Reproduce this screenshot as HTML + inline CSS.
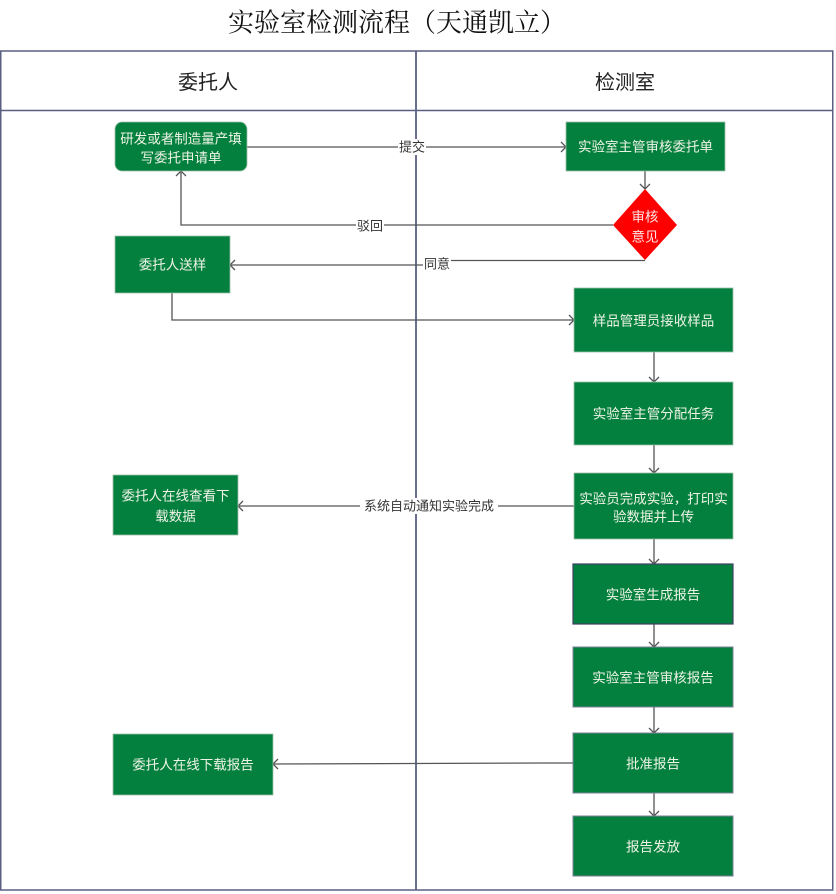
<!DOCTYPE html>
<html>
<head>
<meta charset="utf-8">
<style>
  html,body{margin:0;padding:0;background:#fff;}
  svg{display:block;}
  .t{font-family:"Liberation Sans","Noto Sans CJK SC",sans-serif;}
  .bx{fill:#04803e;}
  .bt{fill:#eef3e6;font-size:13.5px;font-family:"Liberation Sans","Noto Sans CJK SC",sans-serif;}
  .ln{fill:none;stroke:#555;stroke-width:1.3;}
  .lb{fill:#333;font-size:13px;font-family:"Liberation Sans","Noto Sans CJK SC",sans-serif;}
</style>
</head>
<body>
<svg width="836" height="894" viewBox="0 0 836 894" xmlns="http://www.w3.org/2000/svg">
  <rect x="0" y="0" width="836" height="894" fill="#fff"/>
  <!-- title -->
  <text x="397" y="23" text-anchor="middle" dominant-baseline="central" font-size="26" fill="#111" font-family="'Liberation Serif','Noto Serif CJK SC',serif">实验室检测流程（天通凯立）</text>

  <!-- frame -->
  <rect x="0.75" y="51" width="832" height="839" fill="none" stroke="#5a5f82" stroke-width="1.5"/>
  <line x1="0" y1="110.5" x2="833" y2="110.5" stroke="#5a5f82" stroke-width="1.5"/>
  <line x1="416" y1="51" x2="416" y2="890" stroke="#5a5f82" stroke-width="1.8"/>

  <text x="208" y="83" text-anchor="middle" dominant-baseline="central" font-size="20" fill="#222" class="t">委托人</text>
  <text x="625" y="83" text-anchor="middle" dominant-baseline="central" font-size="20" fill="#222" class="t">检测室</text>

  <!-- connectors -->
  <path class="ln" d="M247 147 H566"/>
  <path class="ln" d="M561 142 L566 147 L561 152"/>

  <path class="ln" d="M645 171 V189"/>
  <path class="ln" d="M640 184 L645 189 L650 184"/>

  <path class="ln" d="M613 225 H181 V171"/>
  <path class="ln" d="M176 176 L181 171 L186 176"/>

  <path class="ln" d="M645 260.5 H440 V265 H230"/>
  <path class="ln" d="M235 260 L230 265 L235 270"/>

  <path class="ln" d="M172 293 V320 H574"/>
  <path class="ln" d="M569 315 L574 320 L569 325"/>

  <path class="ln" d="M654 352 V382"/>
  <path class="ln" d="M649 377 L654 382 L659 377"/>
  <path class="ln" d="M654 445 V473"/>
  <path class="ln" d="M649 468 L654 473 L659 468"/>
  <path class="ln" d="M654 539 V564"/>
  <path class="ln" d="M649 559 L654 564 L659 559"/>
  <path class="ln" d="M654 624 V647"/>
  <path class="ln" d="M649 642 L654 647 L659 642"/>
  <path class="ln" d="M654 707 V733"/>
  <path class="ln" d="M649 728 L654 733 L659 728"/>
  <path class="ln" d="M654 793 V816"/>
  <path class="ln" d="M649 811 L654 816 L659 811"/>

  <path class="ln" d="M574 506 H238"/>
  <path class="ln" d="M243 501 L238 506 L243 511"/>

  <path class="ln" d="M573 763 L548 763 L273 764"/>
  <path class="ln" d="M278 759 L273 764 L278 769"/>

  <!-- connector labels -->
  <rect x="398" y="139" width="28" height="16" fill="#fff"/>
  <text x="412" y="147" text-anchor="middle" dominant-baseline="central" class="lb">提交</text>
  <rect x="356" y="218" width="28" height="16" fill="#fff"/>
  <text x="370" y="226" text-anchor="middle" dominant-baseline="central" class="lb">驳回</text>
  <rect x="423" y="256" width="28" height="16" fill="#fff"/>
  <text x="437" y="264" text-anchor="middle" dominant-baseline="central" class="lb">同意</text>
  <rect x="360" y="498" width="138" height="16" fill="#fff"/>
  <text x="429" y="506" text-anchor="middle" dominant-baseline="central" class="lb">系统自动通知实验完成</text>

  <!-- boxes left -->
  <rect class="bx" x="115" y="122" width="132" height="49" rx="7" stroke="#9fbfa8" stroke-width="0.8"/>
  <text class="bt" x="181" y="139" text-anchor="middle" dominant-baseline="central">研发或者制造量产填</text>
  <text class="bt" x="181" y="158" text-anchor="middle" dominant-baseline="central">写委托申请单</text>

  <rect class="bx" x="115" y="236" width="115" height="57" stroke="#9fbfa8" stroke-width="0.8"/>
  <text class="bt" x="172.5" y="265" text-anchor="middle" dominant-baseline="central">委托人送样</text>

  <rect class="bx" x="113" y="475" width="125" height="60" stroke="#9fbfa8" stroke-width="0.8"/>
  <text class="bt" x="175.5" y="496" text-anchor="middle" dominant-baseline="central">委托人在线查看下</text>
  <text class="bt" x="175.5" y="516.5" text-anchor="middle" dominant-baseline="central">载数据</text>

  <rect class="bx" x="113" y="734" width="160" height="61" stroke="#9fbfa8" stroke-width="0.8"/>
  <text class="bt" x="193" y="765" text-anchor="middle" dominant-baseline="central">委托人在线下载报告</text>

  <!-- boxes right -->
  <rect class="bx" x="566" y="122" width="159" height="49" stroke="#9fbfa8" stroke-width="0.8"/>
  <text class="bt" x="645.5" y="147" text-anchor="middle" dominant-baseline="central">实验室主管审核委托单</text>

  <polygon points="645,189 677,225 645,260 613,225" fill="#ff0000"/>
  <text class="bt" x="645" y="217" text-anchor="middle" dominant-baseline="central" fill="#ffe6e6" style="fill:#ffe4e4">审核</text>
  <text class="bt" x="645" y="237" text-anchor="middle" dominant-baseline="central" style="fill:#ffe4e4">意见</text>

  <rect class="bx" x="574" y="288" width="159" height="64" stroke="#9fbfa8" stroke-width="0.8"/>
  <text class="bt" x="653.5" y="321" text-anchor="middle" dominant-baseline="central">样品管理员接收样品</text>

  <rect class="bx" x="574" y="382" width="159" height="63" stroke="#9fbfa8" stroke-width="0.8"/>
  <text class="bt" x="653.5" y="414" text-anchor="middle" dominant-baseline="central">实验室主管分配任务</text>

  <rect class="bx" x="574" y="473" width="159" height="66" stroke="#9fbfa8" stroke-width="0.8"/>
  <text class="bt" x="653.5" y="499" text-anchor="middle" dominant-baseline="central">实验员完成实验，打印实</text>
  <text class="bt" x="653.5" y="517" text-anchor="middle" dominant-baseline="central">验数据并上传</text>

  <rect class="bx" x="573" y="564" width="160" height="60" stroke="#3c4162" stroke-width="1.2"/>
  <text class="bt" x="653" y="595" text-anchor="middle" dominant-baseline="central">实验室生成报告</text>

  <rect class="bx" x="573" y="647" width="160" height="60" stroke="#7a7f98" stroke-width="1"/>
  <text class="bt" x="653" y="678" text-anchor="middle" dominant-baseline="central">实验室主管审核报告</text>

  <rect class="bx" x="573" y="733" width="160" height="60" stroke="#7a7f98" stroke-width="1"/>
  <text class="bt" x="653" y="764" text-anchor="middle" dominant-baseline="central">批准报告</text>

  <rect class="bx" x="573" y="816" width="160" height="60" stroke="#7a7f98" stroke-width="1"/>
  <text class="bt" x="653" y="847" text-anchor="middle" dominant-baseline="central">报告发放</text>
</svg>
</body>
</html>
